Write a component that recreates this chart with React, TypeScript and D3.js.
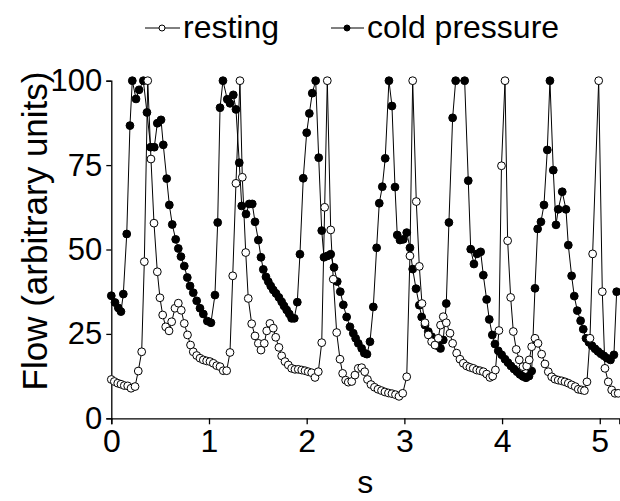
import { useEffect, useRef } from "react";
import * as d3 from "d3";

const WIDTH = 620;
const HEIGHT = 501;

// [time (s), flow]
const resting: [number, number][] = [
  [0.0, 11.5], [0.031, 10.9], [0.066, 10.4], [0.099, 10.1], [0.133, 9.7], [0.168, 9.6],
  [0.202, 8.9], [0.243, 9.4], [0.276, 14], [0.311, 19.7], [0.338, 46.4], [0.373, 100],
  [0.406, 76.8], [0.437, 57.8], [0.471, 43.4], [0.498, 35.7], [0.526, 30.6], [0.557, 27.1],
  [0.591, 25.9], [0.618, 28.6], [0.652, 32.6], [0.686, 34.1], [0.716, 32], [0.747, 28.1],
  [0.78, 24.7], [0.811, 21.7], [0.839, 19.7], [0.874, 18.6], [0.908, 17.8], [0.942, 17.3],
  [0.976, 17], [1.01, 16.8], [1.044, 16.3], [1.079, 15.6], [1.113, 15.3], [1.146, 14.1],
  [1.181, 14.1], [1.215, 19.5], [1.243, 42.2], [1.276, 69.6], [1.317, 100], [1.341, 71.4],
  [1.376, 49.1], [1.402, 35.5], [1.437, 28], [1.471, 24.4], [1.505, 22.2], [1.532, 20.2],
  [1.566, 22.2], [1.591, 25.9], [1.624, 28.1], [1.658, 26.7], [1.683, 24], [1.716, 21],
  [1.744, 18.5], [1.778, 16.8], [1.812, 15.8], [1.846, 14.8], [1.88, 14.5], [1.914, 14.5],
  [1.949, 14.3], [1.983, 14.1], [2.016, 13.8], [2.051, 13.5], [2.085, 12.1], [2.119, 13.8],
  [2.154, 22.4], [2.184, 62.5], [2.211, 100], [2.246, 55.8], [2.272, 41.2], [2.307, 25.4],
  [2.341, 17.5], [2.368, 13.3], [2.399, 11.3], [2.426, 10.7], [2.461, 10.9], [2.494, 12.8],
  [2.528, 14.8], [2.563, 15], [2.594, 13.8], [2.622, 11.5], [2.658, 10], [2.694, 9.2],
  [2.73, 8.6], [2.766, 8.2], [2.801, 7.8], [2.837, 7.5], [2.873, 7.3], [2.909, 7],
  [2.945, 6.5], [2.983, 7.4], [3.024, 12.3], [3.057, 48.1], [3.085, 100], [3.122, 64.2],
  [3.153, 45], [3.18, 34], [3.211, 28.3], [3.245, 24.7], [3.279, 22.7], [3.313, 21.7],
  [3.347, 23.7], [3.37, 27.6], [3.398, 30.1], [3.429, 28.3], [3.467, 25.2], [3.494, 22.2],
  [3.535, 19.3], [3.569, 17.5], [3.603, 16.3], [3.638, 15.5], [3.671, 15.1], [3.705, 14.8],
  [3.74, 14.3], [3.774, 14.1], [3.808, 13.8], [3.842, 13.1], [3.876, 12.1], [3.904, 12.5],
  [3.932, 14.3], [3.968, 26], [3.994, 74.8], [4.03, 100], [4.057, 52.6], [4.088, 35.8],
  [4.115, 25.7], [4.145, 20.4], [4.176, 17.3], [4.214, 15.3], [4.252, 15.5], [4.278, 17.3],
  [4.303, 21.2], [4.337, 23.7], [4.368, 22.2], [4.405, 19], [4.439, 16.1], [4.473, 13.8],
  [4.508, 12.3], [4.541, 11.6], [4.575, 11.3], [4.61, 11.1], [4.644, 10.8], [4.678, 10.4],
  [4.712, 9.9], [4.749, 9.4], [4.78, 8.6], [4.813, 8.4], [4.843, 8.2], [4.869, 10.8],
  [4.9, 23.7], [4.927, 48.7], [4.989, 100], [5.026, 37.5], [5.053, 14.8], [5.087, 10.8],
  [5.122, 8.4], [5.156, 7.4], [5.189, 7.4],
];

const coldPressure: [number, number][] = [
  [0.0, 36.3], [0.038, 34.3], [0.072, 32.7], [0.099, 31.6], [0.123, 36.8], [0.158, 54.6],
  [0.191, 86.7], [0.215, 100], [0.253, 94.6], [0.284, 97.3], [0.328, 100], [0.365, 90.6],
  [0.403, 80.3], [0.44, 80.3], [0.471, 87.4], [0.509, 88.4], [0.532, 81], [0.567, 71],
  [0.594, 63.2], [0.624, 57.4], [0.659, 53], [0.686, 50.3], [0.713, 47.9], [0.747, 45.1],
  [0.778, 41.7], [0.806, 39.2], [0.839, 37.2], [0.874, 34.8], [0.908, 32.6], [0.942, 30.9],
  [0.983, 28.8], [1.02, 28.3], [1.061, 36.5], [1.089, 58], [1.113, 92], [1.143, 100],
  [1.187, 94.5], [1.215, 93.3], [1.249, 95.8], [1.276, 91.5], [1.31, 75.7], [1.335, 62.9],
  [1.379, 60.5], [1.412, 63.5], [1.443, 63.5], [1.471, 58.2], [1.505, 52.8], [1.532, 47.7],
  [1.556, 44.1], [1.583, 41.9], [1.607, 40.5], [1.632, 39.2], [1.658, 38], [1.686, 37],
  [1.716, 35.8], [1.744, 34.5], [1.768, 33.3], [1.795, 32.1], [1.822, 30.9], [1.846, 29.6],
  [1.873, 29.6], [1.904, 34.4], [1.931, 48.6], [1.965, 71.1], [2.0, 84.6], [2.027, 90.3],
  [2.057, 96.3], [2.092, 100], [2.123, 77.2], [2.154, 55.6], [2.177, 47.7], [2.211, 48.1],
  [2.246, 48.6], [2.28, 44.7], [2.313, 40.5], [2.344, 37.5], [2.375, 33.6], [2.409, 30],
  [2.443, 27.1], [2.477, 25.2], [2.501, 23.7], [2.528, 22.2], [2.563, 20.7], [2.59, 19.3],
  [2.617, 19], [2.648, 22.7], [2.682, 33], [2.716, 50.5], [2.743, 63.7], [2.774, 68.6],
  [2.804, 77], [2.842, 100], [2.873, 92.5], [2.904, 68.5], [2.927, 54.3], [2.955, 52.8],
  [2.989, 53], [3.024, 55], [3.057, 50.5], [3.085, 44.2], [3.119, 38.4], [3.153, 33.5],
  [3.177, 30], [3.211, 27.6], [3.245, 25.7], [3.279, 24.2], [3.313, 22.7], [3.341, 21.5],
  [3.37, 20.7], [3.398, 23.2], [3.429, 34], [3.456, 58], [3.494, 89], [3.525, 100],
  [3.617, 100], [3.654, 70.4], [3.679, 50.1], [3.712, 45.7], [3.743, 48.7], [3.781, 49.3],
  [3.808, 42.4], [3.842, 35.2], [3.869, 29.3], [3.9, 24.7], [3.927, 22], [3.961, 20],
  [3.996, 18.8], [4.03, 17.5], [4.06, 16.5], [4.091, 15.5], [4.122, 14.6], [4.153, 13.8],
  [4.183, 13], [4.214, 12.4], [4.245, 12], [4.276, 12.5], [4.303, 14], [4.337, 38.5],
  [4.364, 56.1], [4.398, 58.2], [4.429, 63.2], [4.463, 79.5], [4.49, 100], [4.524, 73.5],
  [4.552, 57.3], [4.575, 61.9], [4.616, 67.1], [4.654, 61.9], [4.678, 51.3], [4.712, 42.2],
  [4.739, 36.2], [4.77, 31.9], [4.804, 28.9], [4.831, 26.4], [4.859, 23.7], [4.889, 22.5],
  [4.92, 21.5], [4.951, 20.6], [4.982, 19.8], [5.012, 19.1], [5.043, 18.5], [5.074, 17.8],
  [5.11, 17.3], [5.145, 18.8], [5.173, 37.5],
];

const xTicks = [0, 1, 2, 3, 4, 5];
const yTicks = [0, 25, 50, 75, 100];

const FONT = "'Liberation Sans', Arial, sans-serif";
const R = 3.9;

export default function App() {
  const xAxisRef = useRef<SVGGElement>(null);
  const yAxisRef = useRef<SVGGElement>(null);

  const x = d3.scaleLinear().domain([0, 5.2]).range([111.3, 619.3]);
  const y = d3.scaleLinear().domain([0, 100]).range([418.3, 80.7]);

  const line = d3
    .line<[number, number]>()
    .x((d) => x(d[0]))
    .y((d) => y(d[1]));

  useEffect(() => {
    const gx = d3.select(xAxisRef.current!);
    gx.call(d3.axisBottom(x).tickValues(xTicks).tickSize(6).tickPadding(5).tickFormat(d3.format("d")) as any);
    gx.select(".domain").attr("stroke", "#000").attr("stroke-width", 1.3);
    gx.selectAll(".tick line").attr("stroke", "#000").attr("stroke-width", 1.3);
    gx.selectAll(".tick text").attr("font-family", FONT).attr("font-size", 32).attr("fill", "#000");

    const gy = d3.select(yAxisRef.current!);
    gy.call(d3.axisLeft(y).tickValues(yTicks).tickSize(5).tickPadding(4).tickFormat(d3.format("d")) as any);
    gy.select(".domain").attr("stroke", "#000").attr("stroke-width", 1.3);
    gy.selectAll(".tick line").attr("stroke", "#000").attr("stroke-width", 1.3);
    gy.selectAll(".tick text").attr("font-family", FONT).attr("font-size", 31).attr("fill", "#000");
  }, []);

  return (
    <svg
      width={WIDTH}
      height={HEIGHT}
      style={{ position: "absolute", left: 0, top: 0, background: "#fff" }}
    >
      <g ref={xAxisRef} transform={`translate(0, ${y(0)})`} />
      <g ref={yAxisRef} transform={`translate(${x(0)}, 0)`} />

      <path d={line(coldPressure) ?? ""} fill="none" stroke="#000" strokeWidth={1} />
      <path d={line(resting) ?? ""} fill="none" stroke="#000" strokeWidth={1} />

      {coldPressure.map((d, i) => (
        <circle key={"c" + i} cx={x(d[0])} cy={y(d[1])} r={R} fill="#000" stroke="#000" strokeWidth={1} />
      ))}
      {resting.map((d, i) => (
        <circle key={"r" + i} cx={x(d[0])} cy={y(d[1])} r={R} fill="#fff" stroke="#000" strokeWidth={1} />
      ))}

      {/* legend */}
      <g fontFamily={FONT} fontSize={32} fill="#000">
        <line x1={145} x2={180} y1={28} y2={28} stroke="#000" strokeWidth={1} />
        <circle cx={162} cy={28} r={3} fill="#fff" stroke="#000" strokeWidth={1} />
        <text x={183} y={38}>resting</text>
        <line x1={331} x2={364} y1={28} y2={28} stroke="#000" strokeWidth={1} />
        <circle cx={347} cy={28} r={3} fill="#000" stroke="#000" strokeWidth={1} />
        <text x={367} y={38}>cold pressure</text>
      </g>

      <text x={x(2.6)} y={493} textAnchor="middle" fontFamily={FONT} fontSize={32} fill="#000">
        s
      </text>
      <text
        transform={`translate(47, 231) rotate(-90)`}
        textAnchor="middle"
        fontFamily={FONT}
        fontSize={35}
        fill="#000"
      >
        Flow (arbitrary units)
      </text>
    </svg>
  );
}
